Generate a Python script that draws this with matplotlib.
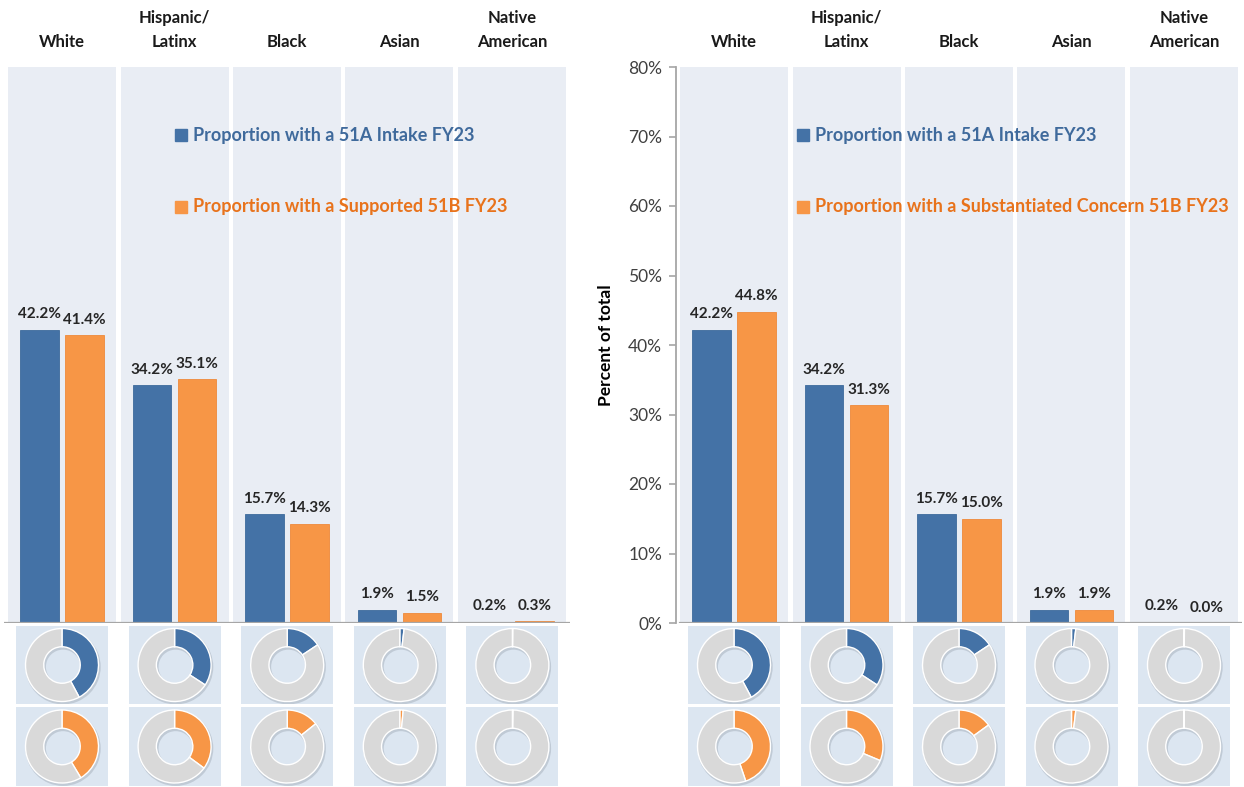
import matplotlib
matplotlib.use("Agg")
import matplotlib.pyplot as plt
from matplotlib.patches import Wedge

# ---------------- data ----------------
categories = ["White", "Hispanic/\nLatinx", "Black", "Asian", "Native\nAmerican"]
intake_51a = [42.2, 34.2, 15.7, 1.9, 0.2]
supported_51b = [41.4, 35.1, 14.3, 1.5, 0.3]
substantiated_51b = [44.8, 31.3, 15.0, 1.9, 0.0]
yticks = [0, 10, 20, 30, 40, 50, 60, 70, 80]
legend_a = "Proportion with a 51A Intake FY23"
legend_left_b = "Proportion with a Supported 51B FY23"
legend_right_b = "Proportion with a Substantiated Concern 51B FY23"
ylabel = "Percent of total"

# ---------------- style ----------------
BLUE = "#4472A6"
ORANGE = "#F79646"
BLUE_TXT = "#3F6A9C"
ORANGE_TXT = "#E8731C"
COL_BG = "#E9EDF4"
TILE_BG = "#DCE6F1"
RING_GRAY = "#D9D9D9"
FONT = "Lato"

W, H = 1244, 787
fig = plt.figure(figsize=(W / 100, H / 100), dpi=100)
fig.patch.set_facecolor("white")


def fx(px):
    return px / W


def fy(px_top):
    return 1 - px_top / H


def panel(left_px, right_px, series_b, legend_b, show_axis, legend_x):
    top, bottom = 67, 623
    ax = fig.add_axes([fx(left_px), fy(bottom), fx(right_px - left_px), (bottom - top) / H])
    ax.set_xlim(-0.516, 4.516)
    ax.set_ylim(0, 80)
    ax.set_facecolor("white")
    n = len(categories)
    for i in range(n):
        ax.axvspan(i - 0.48, i + 0.48, color=COL_BG, zorder=0, lw=0)
    off, bw = 0.2, 0.34
    xs = list(range(n))
    ax.bar([x - off for x in xs], intake_51a, width=bw, color=BLUE, zorder=2,
           edgecolor="#3d6a9c", lw=0.6)
    ax.bar([x + off for x in xs], series_b, width=bw, color=ORANGE, zorder=2,
           edgecolor="#ee8a3a", lw=0.6)
    for x, v in zip(xs, intake_51a):
        ax.annotate(f"{v:.1f}%", (x - off, v), xytext=(0, 6), textcoords="offset points",
                    ha="center", va="bottom", fontsize=11, fontweight="bold",
                    family=FONT, color="#262626", zorder=3)
    for x, v in zip(xs, series_b):
        ax.annotate(f"{v:.1f}%", (x + off, v), xytext=(0, 6), textcoords="offset points",
                    ha="center", va="bottom", fontsize=11, fontweight="bold",
                    family=FONT, color="#262626", zorder=3)
    ax.axhline(0, color="#A6A6A6", lw=1.6, zorder=4, xmin=0.007 if show_axis else 0.0, xmax=1.0)
    # header labels
    for x, c in zip(xs, categories):
        ax.text(x, 82.4, c, ha="center", va="bottom", fontsize=12, fontweight="bold",
                family=FONT, color="#1a1a1a", linespacing=1.65, clip_on=False)
    # legend entries
    for yv, lab, col, tcol in [(70.2, legend_a, BLUE, BLUE_TXT), (59.9, legend_b, ORANGE, ORANGE_TXT)]:
        ax.plot([legend_x], [yv], marker="s", ms=8.5, color=col, mec=col, zorder=3)
        ax.text(legend_x + 0.105, yv, lab, ha="left", va="center", fontsize=13,
                fontweight="bold", family=FONT, color=tcol, zorder=3)
    for s in ["top", "right", "bottom"]:
        ax.spines[s].set_visible(False)
    ax.set_xticks([])
    if show_axis:
        ax.spines["left"].set_color("#A6A6A6")
        ax.spines["left"].set_linewidth(1.3)
        ax.set_yticks(yticks)
        ax.set_yticklabels([f"{t}%" for t in yticks], fontsize=12.5, family=FONT, color="#404040")
        ax.tick_params(axis="y", length=5, color="#A6A6A6", width=1.2, pad=5)
        ax.set_ylabel(ylabel, fontsize=12.5, fontweight="bold", family=FONT, labelpad=10)
    else:
        ax.spines["left"].set_visible(False)
        ax.set_yticks([])
    return ax


def donut(cx_px, top_px, bot_px, value, color):
    tw = 92
    h = bot_px - top_px
    a = fig.add_axes([fx(cx_px - tw / 2), fy(bot_px), fx(tw), h / H])
    r_px = 36.5
    a.pie([value, 100 - value] if value > 0 else [0.0001, 100], colors=[color, RING_GRAY],
          startangle=90, counterclock=False, radius=1,
          wedgeprops=dict(width=0.5, edgecolor="white", linewidth=1.0))
    # soft drop shadow behind the ring
    a.add_patch(Wedge((0.03, -0.05), 1.03, 0, 360, width=0.56, color="#8c96a3",
                      alpha=0.35, zorder=0, lw=0))
    a.set_frame_on(True)
    for s in a.spines.values():
        s.set_visible(False)
    a.set_facecolor(TILE_BG)
    a.set_aspect("auto")
    a.set_xlim(-tw / 2 / r_px, tw / 2 / r_px)
    a.set_ylim(-h / 2 / r_px, h / 2 / r_px)
    a.set_xticks([])
    a.set_yticks([])


# left panel
panel(4, 570, supported_51b, legend_left_b, False, 1.057)
# right panel
panel(676, 1242, substantiated_51b, legend_right_b, True, 0.613)

for base, step, series_b in [(62, 112.6, supported_51b), (734, 112.5, substantiated_51b)]:
    for i in range(len(categories)):
        cx = base + i * step
        donut(cx, 626, 704, intake_51a[i], BLUE)
        donut(cx, 707, 786, series_b[i], ORANGE)

fig.savefig("out.png", dpi=100, facecolor="white")
